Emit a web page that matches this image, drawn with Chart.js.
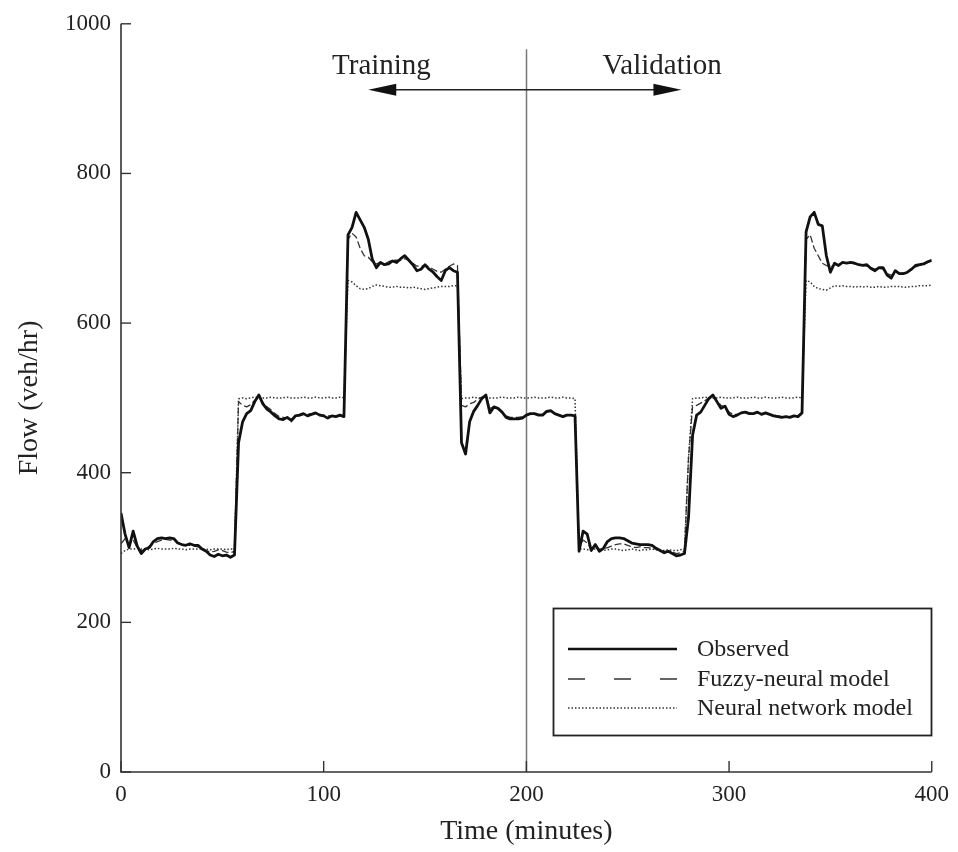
<!DOCTYPE html>
<html><head><meta charset="utf-8">
<script src="https://cdn.jsdelivr.net/npm/chart.js@4.4.0/dist/chart.umd.min.js"></script>
<style>html,body{margin:0;padding:0;background:#fff;}#wrap{width:958px;height:852px;}</style>
</head><body><div id="wrap"><canvas id="c" width="958" height="852"></canvas></div>
<script>
const timeMinutes = [
0,2,4,6,8,10,12,14,16,18,20,22,24,26,28,30,32,34,36,38,
40,42,44,46,48,50,52,54,56,58,60,62,64,66,68,70,72,74,76,78,
80,82,84,86,88,90,92,94,96,98,100,102,104,106,108,110,112,114,116,118,
120,122,124,126,128,130,132,134,136,138,140,142,144,146,148,150,152,154,156,158,
160,162,164,166,168,170,172,174,176,178,180,182,184,186,188,190,192,194,196,198,
200,202,204,206,208,210,212,214,216,218,220,222,224,226,228,230,232,234,236,238,
240,242,244,246,248,250,252,254,256,258,260,262,264,266,268,270,272,274,276,278,
280,282,284,286,288,290,292,294,296,298,300,302,304,306,308,310,312,314,316,318,
320,322,324,326,328,330,332,334,336,338,340,342,344,346,348,350,352,354,356,358,
360,362,364,366,368,370,372,374,376,378,380,382,384,386,388,390,392,394,396,398,
400];

const observed = [
346,318,300,322,302,292,298,300,308,312,
313,312,313,312,306,304,303,305,303,303,
298,295,290,288,291,289,290,287,290,440,
468,479,483,495,504,492,485,481,476,472,
471,474,470,476,477,479,476,478,480,477,
476,473,476,475,477,475,718,728,748,738,
728,712,685,674,681,678,679,683,681,686,
690,684,678,670,672,678,672,668,662,657,
670,674,670,668,440,425,468,482,490,499,
504,480,488,486,481,474,472,472,472,473,
477,479,479,477,477,482,483,479,477,475,
477,477,476,295,322,318,296,304,295,299,
308,312,313,313,312,309,306,305,304,304,
304,303,299,296,293,295,292,289,290,292,
340,450,477,481,490,499,504,495,486,489,
478,475,477,480,481,479,479,481,478,480,
478,476,475,474,475,474,476,475,480,722,
742,748,732,730,690,668,680,677,681,680,
681,680,678,677,678,673,670,674,674,664,
660,670,666,666,668,672,677,678,679,682,
684];

const fuzzyNeural = [
305,312,304,310,300,296,297,302,305,308,
310,311,310,310,307,304,303,303,302,301,
298,296,294,295,297,296,294,293,295,495,
490,488,491,497,501,494,488,484,479,475,
474,473,468,474,476,478,478,479,478,478,
477,476,476,476,476,476,712,720,715,700,
690,688,682,679,681,679,682,684,684,684,
686,684,680,676,676,677,675,672,669,668,
672,676,679,677,490,488,492,494,498,501,
502,486,488,486,481,476,474,474,474,475,
477,479,479,478,478,481,482,479,477,476,
477,477,477,300,310,306,298,301,298,298,
300,302,304,305,305,303,301,300,301,300,
300,299,298,296,295,295,294,292,293,295,
420,488,490,493,496,500,503,496,490,488,
481,478,478,480,481,480,479,480,479,479,
478,477,476,475,475,475,476,476,479,712,
718,700,690,680,677,675,678,678,680,680,
680,679,678,677,676,674,672,673,672,666,
664,667,666,667,668,671,675,677,679,681,
683];

const neuralNetwork = [
292,296,298,298,299,298,298,297,298,299,
298,298,298,299,298,298,297,298,298,298,
298,298,297,298,298,298,297,298,298,499,
500,499,500,501,500,500,500,501,500,500,
500,501,500,500,500,501,500,500,501,500,
500,501,500,500,501,500,657,655,650,646,
645,646,649,651,650,649,648,648,649,648,
648,647,648,647,646,645,646,647,648,649,
649,649,650,650,499,500,500,501,500,500,
501,500,500,500,501,500,500,500,501,500,
500,500,501,500,500,500,501,500,500,501,
500,500,499,298,298,297,298,298,297,296,
297,298,298,297,296,297,298,297,296,297,
297,298,297,296,296,297,296,296,297,298,
420,499,500,500,501,500,500,500,501,500,
500,500,501,500,500,500,501,500,500,501,
500,500,500,501,500,500,500,501,500,657,
655,649,646,645,644,647,650,649,650,649,
649,648,649,648,649,648,648,649,648,648,
649,649,649,648,648,649,649,650,650,650,
651];

const xTicks = [0,100,200,300,400];
const yTicks = [0,200,400,600,800,1000];
const seriesNames = ['Observed','Fuzzy-neural model','Neural network model'];
const phaseLabels = ['Training','Validation'];
const splitTime = 200;

const SERIF = "'Liberation Serif','DejaVu Serif',serif";

function pts(arr){ return arr.map((v,i)=>({x:timeMinutes[i], y:v})); }

const styles = [
  {borderColor:'#111', borderWidth:2.8, borderDash:[]},
  {borderColor:'#333', borderWidth:1.3, borderDash:[7,3]},
  {borderColor:'#333', borderWidth:1.5, borderDash:[1.5,2]}
];
const legendDash = [[],[17,29],[1.5,2]];

const overlay = {
  id:'overlay',
  beforeDatasetsDraw(chart){
    const {ctx, scales:{x,y}} = chart;
    ctx.save();
    ctx.strokeStyle='#777'; ctx.lineWidth=1.5;
    const px = Math.round(x.getPixelForValue(splitTime))+0.5;
    ctx.beginPath();
    ctx.moveTo(px, y.getPixelForValue(966));
    ctx.lineTo(px, y.getPixelForValue(0));
    ctx.stroke();
    ctx.restore();
  },
  afterDraw(chart){
    const {ctx, chartArea:a, scales:{x,y}} = chart;
    ctx.save();
    ctx.strokeStyle='#333'; ctx.lineWidth=1.6;
    ctx.beginPath();
    ctx.moveTo(a.left, a.top); ctx.lineTo(a.left, a.bottom); ctx.lineTo(a.right, a.bottom);
    ctx.stroke();
    ctx.lineWidth=1.4;
    xTicks.forEach(v=>{const p=x.getPixelForValue(v); ctx.beginPath(); ctx.moveTo(p,a.bottom); ctx.lineTo(p,a.bottom-11); ctx.stroke();});
    yTicks.forEach(v=>{const p=y.getPixelForValue(v); ctx.beginPath(); ctx.moveTo(a.left,p); ctx.lineTo(a.left+10,p); ctx.stroke();});

    const ay = y.getPixelForValue(912);
    const x1 = x.getPixelForValue(122), x2 = x.getPixelForValue(276.5);
    ctx.strokeStyle='#222'; ctx.fillStyle='#111'; ctx.lineWidth=1.5;
    ctx.beginPath(); ctx.moveTo(x1+20,ay); ctx.lineTo(x2-20,ay); ctx.stroke();
    ctx.beginPath(); ctx.moveTo(x1,ay); ctx.lineTo(x1+28,ay-6); ctx.lineTo(x1+28,ay+6); ctx.closePath(); ctx.fill();
    ctx.beginPath(); ctx.moveTo(x2,ay); ctx.lineTo(x2-28,ay-6); ctx.lineTo(x2-28,ay+6); ctx.closePath(); ctx.fill();

    ctx.font = "29px " + SERIF;
    ctx.fillStyle='#222'; ctx.textAlign='center'; ctx.textBaseline='alphabetic';
    const ty = y.getPixelForValue(933);
    ctx.fillText(phaseLabels[0], x.getPixelForValue(128.5), ty);
    ctx.fillText(phaseLabels[1], x.getPixelForValue(267), ty);

    const bx=553.5, by=608.5, bw=378, bh=127;
    ctx.strokeStyle='#222'; ctx.lineWidth=1.8;
    ctx.strokeRect(bx,by,bw,bh);
    const rows=[649,679,708];
    ctx.font = "24px " + SERIF; ctx.textAlign='left'; ctx.textBaseline='middle';
    seriesNames.forEach((n,i)=>{
      ctx.save();
      ctx.strokeStyle = i===0 ? '#111' : '#333';
      ctx.lineWidth = i===0 ? 2.6 : 1.5;
      ctx.setLineDash(legendDash[i]);
      ctx.beginPath(); ctx.moveTo(568,rows[i]); ctx.lineTo(677,rows[i]); ctx.stroke();
      ctx.restore();
      ctx.fillStyle='#222';
      ctx.fillText(n, 697, rows[i]+1);
    });
    ctx.restore();
  }
};

new Chart(document.getElementById('c'), {
  type:'line',
  data:{
    datasets:[
      Object.assign({label:seriesNames[0], data:pts(observed)}, styles[0]),
      Object.assign({label:seriesNames[1], data:pts(fuzzyNeural)}, styles[1]),
      Object.assign({label:seriesNames[2], data:pts(neuralNetwork)}, styles[2])
    ].map(d=>Object.assign(d,{pointRadius:0, fill:false, tension:0, borderJoinStyle:'round'}))
  },
  options:{
    responsive:false, animation:false, devicePixelRatio:1,
    layout:{padding:{top:18,right:23,bottom:0,left:0}},
    plugins:{legend:{display:false}, tooltip:{enabled:false}},
    scales:{
      x:{type:'linear', min:0, max:400,
        afterFit(s){ s.height = 80; },
        afterBuildTicks(s){ s.ticks = xTicks.map(v=>({value:v})); },
        grid:{display:false, drawTicks:false}, border:{display:false},
        ticks:{font:{family:SERIF,size:23}, color:'#222', padding:9, maxRotation:0, callback:v=>String(v)},
        title:{display:true, text:'Time (minutes)', font:{family:SERIF,size:28}, color:'#222', padding:{top:0,bottom:4}}
      },
      y:{min:0, max:1000,
        afterFit(s){ s.width = 121; },
        afterBuildTicks(s){ s.ticks = yTicks.map(v=>({value:v})); },
        grid:{display:false, drawTicks:false}, border:{display:false},
        ticks:{font:{family:SERIF,size:23}, color:'#222', padding:10, callback:v=>String(v)},
        title:{display:true, text:'Flow (veh/hr)', font:{family:SERIF,size:28}, color:'#222', padding:{top:13,bottom:0}}
      }
    }
  },
  plugins:[overlay]
});
</script></body></html>
